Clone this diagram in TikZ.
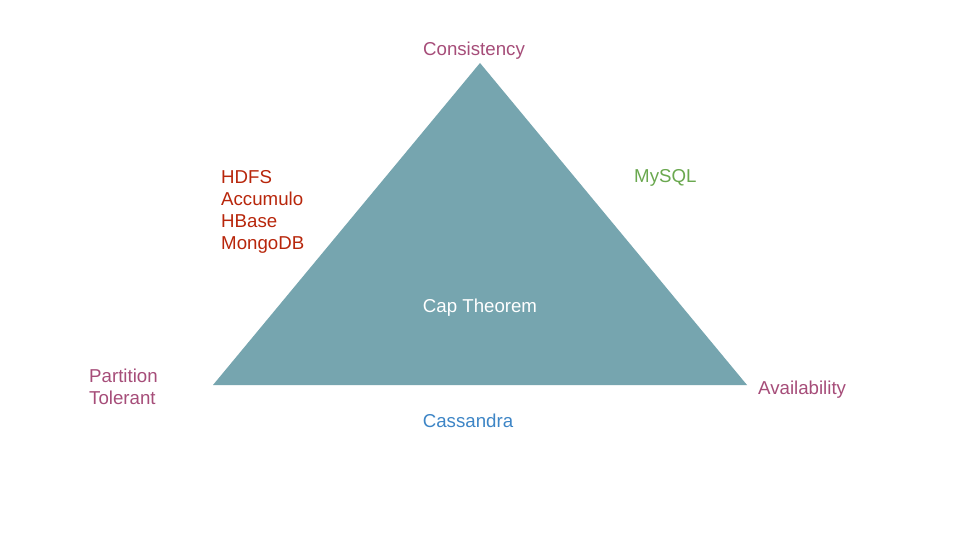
\documentclass[tikz,border=0pt]{standalone}
\usepackage{fontspec}
\setmainfont{Liberation Sans}
\definecolor{tri}{HTML}{76A5AF}
\definecolor{cpurple}{HTML}{A64D79}
\definecolor{cred}{HTML}{B8260B}
\definecolor{cgreen}{HTML}{6AA84F}
\definecolor{cblue}{HTML}{3D85C6}
\tikzset{
  lbl/.style={inner sep=0pt, font=\fontsize{18.67pt}{22pt}\selectfont, align=left},
}
\begin{document}
\begin{tikzpicture}[x=1pt,y=-1pt]
\useasboundingbox[fill=white] (0,0) rectangle (960,540);
\coordinate (top) at (480,63);
\coordinate (bl) at (213,385);
\coordinate (br) at (747,385);
\fill[tri] (top) -- (br) -- (bl) -- cycle;
\node[lbl, text=cpurple, anchor=base] (cons) at (474,55.7) {Consistency};
\node[lbl, text=cred, anchor=north west] (cp) at (221,170) {HDFS\\Accumulo\\HBase\\MongoDB};
\node[lbl, text=cgreen, anchor=base west] (ca) at (634,182.7) {MySQL};
\node[lbl, text=white, anchor=base] (cap) at (480,312.7) {Cap Theorem};
\node[lbl, text=cpurple, anchor=north west] (pt) at (89,369) {Partition\\Tolerant};
\node[lbl, text=cpurple, anchor=base west] (av) at (758,394.7) {Availability};
\node[lbl, text=cblue, anchor=base] (cas) at (468,427.7) {Cassandra};
\end{tikzpicture}
\end{document}
